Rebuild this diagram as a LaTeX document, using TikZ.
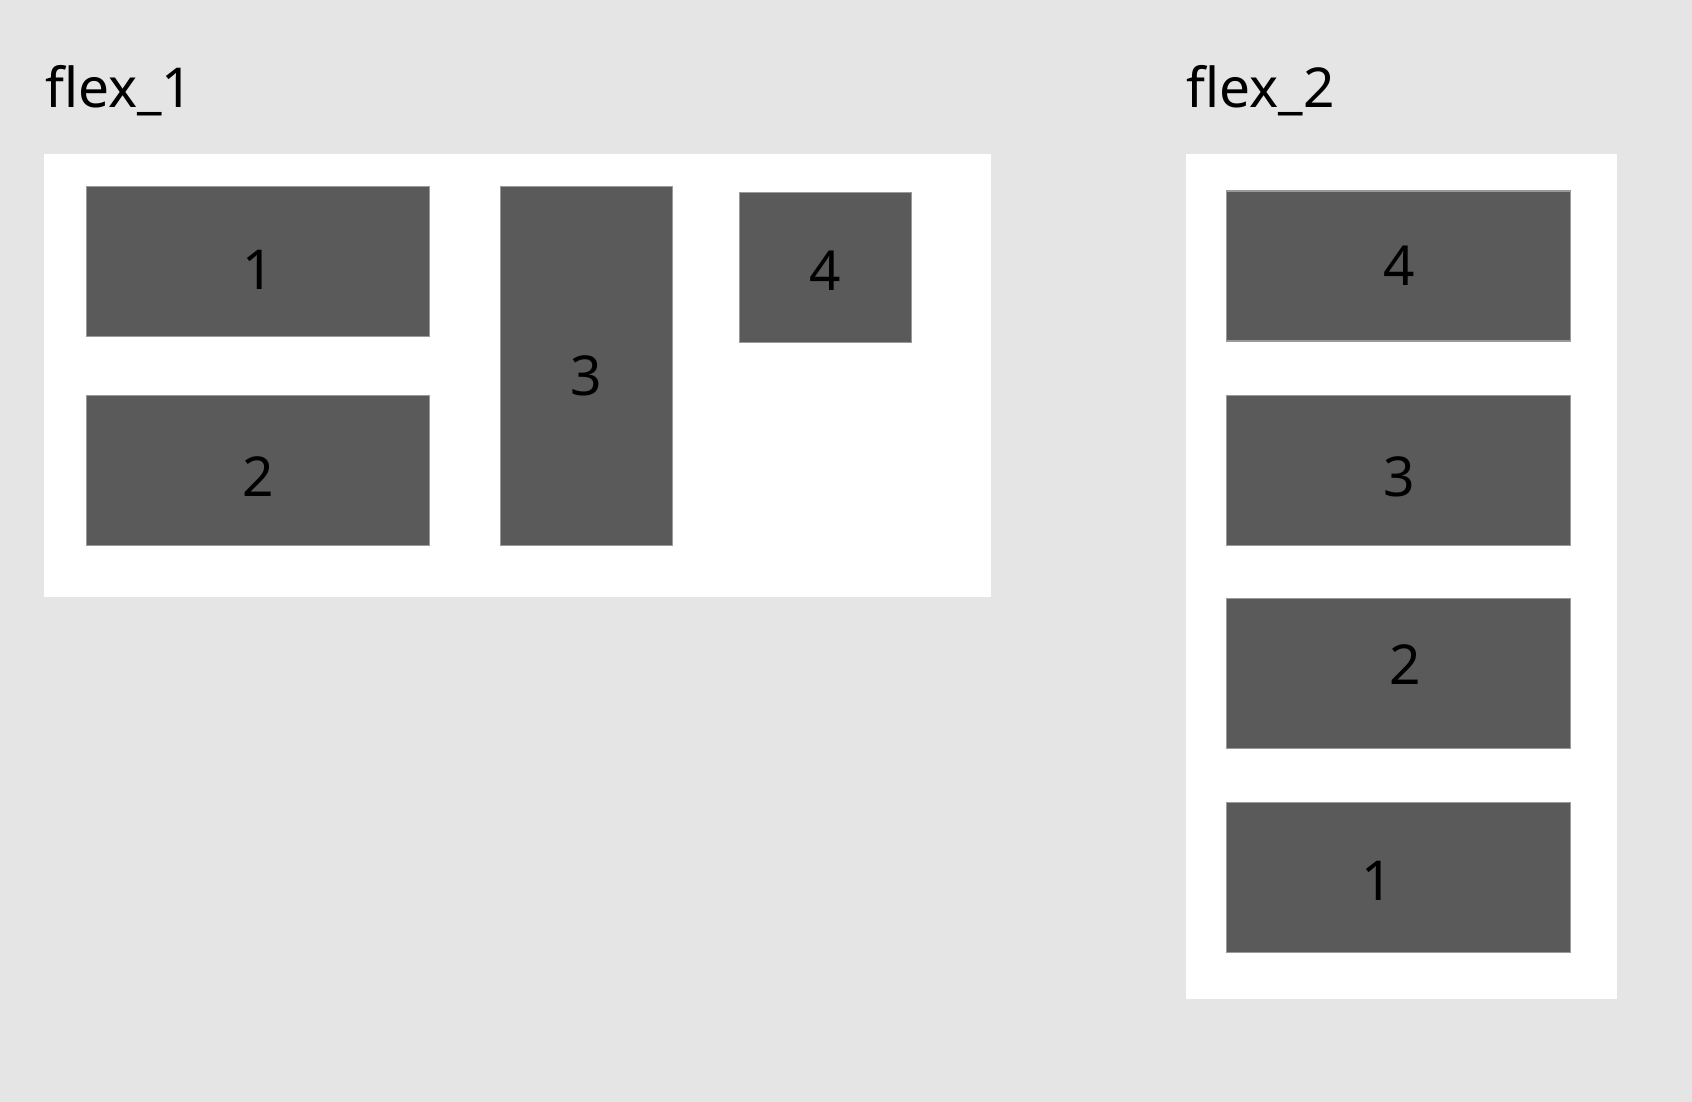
\documentclass[tikz,border=0pt]{standalone}
\usepackage{fontspec}
\setmainfont{Noto Sans}
\usetikzlibrary{positioning}
\definecolor{bggray}{HTML}{E5E5E5}
\definecolor{itemgray}{HTML}{5A5A5A}
\definecolor{itemedge}{HTML}{9A9A9A}
\tikzset{
  panel/.style={fill=white, draw=none, inner sep=0pt},
  item/.style={fill=itemgray, draw=itemedge, line width=0.3pt, inner sep=0pt,
               minimum width=3.18cm, minimum height=1.39cm},
  num/.style={inner sep=0pt, font=\fontsize{14.5}{17}\selectfont},
  title/.style={inner sep=0pt, anchor=base west, font=\fontsize{14.5}{17}\selectfont}
}
\begin{document}
\begin{tikzpicture}[x=0.01cm, y=-0.01cm]
			\fill[bggray] (0,0) rectangle (1568,1021);
			\useasboundingbox (0,0) rectangle (1568,1021);
			% flex_1
			\node[title] (t1) at (41,99.5) {flex\_1};
			\node[panel, minimum width=8.77cm, minimum height=4.10cm] (f1) at (479.5,348) {};
			\node[item] (a1) at (239,242.5) {};
			\node[item, below=0.53cm of a1] (a2) {};
			\node[item, minimum width=1.59cm, minimum height=3.32cm, right=0.65cm of a1.north east, anchor=north west] (a3) {};
			\node[item, minimum width=1.59cm, anchor=north west] (a4) at (685,178) {};
			\node[num] (n1) at ([yshift=-0.075cm]a1.center) {1};
			\node[num] (n2) at ([yshift=-0.06cm]a2.center) {2};
			\node[num] (n3) at ([yshift=-0.09cm]a3.center) {3};
			\node[num] (n4) at ([yshift=-0.025cm]a4.center) {4};
			% flex_2
			\node[title] (t2) at (1099,99.5) {flex\_2};
			\node[panel, minimum width=3.99cm, minimum height=7.83cm] (f2) at (1298.5,534.5) {};
			\node[item] (b4) at (1296,246.5) {};
			\node[item, below=0.49cm of b4] (b3) {};
			\node[item, below=0.48cm of b3] (b2) {};
			\node[item, below=0.49cm of b2] (b1) {};
			\node[num] (m4) at ([xshift=0.01cm]b4.center) {4};
			\node[num] (m3) at ([xshift=0.01cm, yshift=-0.06cm]b3.center) {3};
			\node[num] (m2) at ([xshift=0.06cm, yshift=0.08cm]b2.center) {2};
			\node[num] (m1) at ([xshift=-0.20cm, yshift=-0.03cm]b1.center) {1};
\end{tikzpicture}
\end{document}
